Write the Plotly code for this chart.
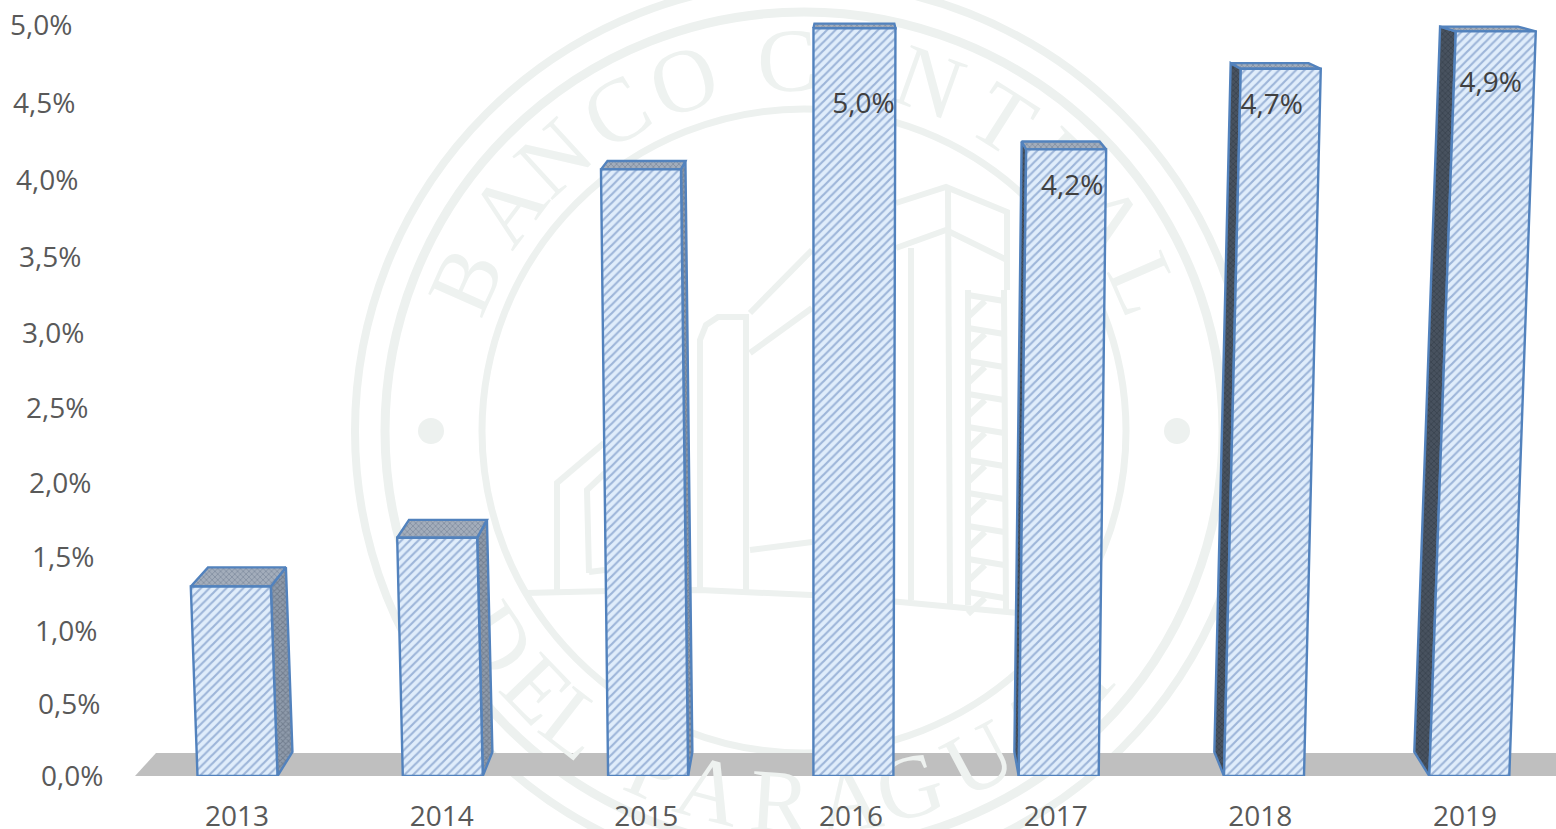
import math
import plotly.graph_objects as go

# ---------- data ----------
years = [2013, 2014, 2015, 2016, 2017, 2018, 2019]
values = [1.3, 1.63, 4.07, 4.98, 4.2, 4.72, 4.96]
y_ticks = [0.0, 0.5, 1.0, 1.5, 2.0, 2.5, 3.0, 3.5, 4.0, 4.5, 5.0]
label_years = [2016, 2017, 2018, 2019]
label_text = ["5,0%", "4,2%", "4,7%", "4,9%"]
label_offset_x = [10, 6, -9, -5]
label_offset_y = [-78, -39, -38, -54]

# ---------- scene: one scene unit = one pixel, the plot is the whole page ----------
W, H, AXIS_PX = 1556, 829, 776
VP_X, VP_Y = 852, -150
DEPTH = 0.026
BAR_W = 80


def project(v):
    """height above the floor of a value, seen in the chart's 3-D perspective"""
    return 144.3 * v / (1 - 0.00783 * v)


def bar_cx(i):
    return 237.5 + 205.3 * i


def skew(cx, h):
    return (cx - VP_X) * 5.76e-5 * h


def back(x, h):
    """point at the rear of the bar"""
    py = AXIS_PX - h
    return x + DEPTH * (VP_X - x), AXIS_PX - (py + DEPTH * (VP_Y - py))


def fmt_pct(v):
    return f"{v:.1f}%".replace(".", ",")


BLUE_LINE = "#5282bd"
PAT_FRONT = dict(shape="/", fgcolor="#5a7db6", bgcolor="#e0edfb", size=6, solidity=0.36)
PAT_TOP = dict(shape="x", fgcolor="#67758a", bgcolor="#a3adbb", size=4, solidity=0.4)
PAT_RIGHT = dict(shape="x", fgcolor="#556274", bgcolor="#8f9bab", size=4, solidity=0.45)
PAT_LEFT = dict(shape="x", fgcolor="#2c3541", bgcolor="#48525f", size=4, solidity=0.4)

fig = go.Figure()


def face(xs, ys, pattern, name):
    fig.add_trace(go.Scatter(
        x=xs + xs[:1], y=ys + ys[:1], mode="lines", fill="toself",
        line=dict(color=BLUE_LINE, width=2.4), fillpattern=pattern,
        fillcolor=pattern["bgcolor"], name=name, hoverinfo="name", showlegend=False,
    ))


for i, (yr, v) in enumerate(zip(years, values)):
    cx = bar_cx(i)
    h = project(v)
    xl0, xr0 = cx - BAR_W / 2, cx + BAR_W / 2
    xl1, xr1 = xl0 + skew(cx, h), xr0 + skew(cx, h) + (2 if yr == 2016 else 0)
    bl0, br0 = back(xl0, 0), back(xr0, 0)
    bl1, br1 = back(xl1, h), back(xr1, h)
    if cx < VP_X - 1:
        face([xr0, xr1, br1[0], br0[0]], [0, h, br1[1], br0[1]], PAT_RIGHT, f"{yr} lado")
    elif cx > VP_X + 2:
        face([xl0, xl1, bl1[0], bl0[0]], [0, h, bl1[1], bl0[1]], PAT_LEFT, f"{yr} lado")
    face([xl1, xr1, br1[0], bl1[0]], [h, h, br1[1], bl1[1]], PAT_TOP, f"{yr} tope")
    face([xl0, xr0, xr1, xl1], [0, 0, h, h], PAT_FRONT, f"{yr}: {fmt_pct(v)}")

# data labels
lx, ly = [], []
for yr, dx, dy in zip(label_years, label_offset_x, label_offset_y):
    i = years.index(yr)
    h = project(values[i])
    lx.append(bar_cx(i) + skew(bar_cx(i), h) + dx)
    ly.append(h + dy)
fig.add_trace(go.Scatter(
    x=lx, y=ly, mode="text", text=label_text, textposition="middle center",
    textfont=dict(family="Open Sans", size=28, color="#404040"),
    hoverinfo="skip", showlegend=False,
))

# ---------- seal watermark (paper-referenced decoration) ----------
PALE = "#edf1ef"
CX, CY = 804, 431


def pxx(x):
    return x / W


def pxy(y):
    return 1 - y / AXIS_PX


shapes = []
for r, w in [(449, 8), (419, 9), (322, 7)]:
    shapes.append(dict(type="circle", xref="paper", yref="paper", layer="below",
                       x0=pxx(CX - r), x1=pxx(CX + r), y0=pxy(CY + r), y1=pxy(CY - r),
                       line=dict(color=PALE, width=w)))
for dx in (-373, 373):
    shapes.append(dict(type="circle", xref="paper", yref="paper", layer="below",
                       x0=pxx(CX + dx - 13), x1=pxx(CX + dx + 13), y0=pxy(CY + 13), y1=pxy(CY - 13),
                       fillcolor=PALE, line=dict(color=PALE, width=0)))

building = [
    [(896, 203), (946, 187), (1007, 212), (1007, 290)],
    [(896, 248), (946, 230), (1007, 260)],
    [(948, 187), (950, 607)],
    [(911, 248), (911, 600)],
    [(700, 590), (700, 340), (706, 325), (718, 317), (746, 317), (746, 590)],
    [(750, 313), (812, 250)],
    [(750, 353), (812, 308)],
    [(750, 550), (812, 542)],
    [(557, 590), (557, 483), (604, 443)],
    [(589, 573), (587, 490), (605, 473)],
    [(589, 572), (605, 570)],
    [(525, 593), (610, 591), (700, 590), (811, 595), (900, 602), (1018, 613)],
    [(968, 290), (968, 605)],
    [(1004, 290), (1006, 613)],
]
for y in range(295, 610, 33):
    building.append([(968, y), (1004, y + 6)])
    building.append([(968, y + 22), (985, y + 6)])
for poly in building:
    path = "M " + " L ".join(f"{pxx(x):.5f},{pxy(y):.5f}" for x, y in poly)
    shapes.append(dict(type="path", xref="paper", yref="paper", layer="below", path=path,
                       line=dict(color=PALE, width=6)))

# grey floor of the 3-D chart
floor = [(135, 776), (156, 753), (1556, 753), (1556, 776)]
fig_floor_path = "M " + " L ".join(f"{pxx(x):.5f},{pxy(y):.5f}" for x, y in floor) + " Z"
shapes.append(dict(type="path", xref="paper", yref="paper", layer="below", path=fig_floor_path,
                   fillcolor="#bfbfbf", line=dict(color="#bfbfbf", width=0)))

annotations = []
R_TEXT = 371
seal_top = list(zip("BANCOCENTRAL", [-66, -53, -42.5, -30.5, -19, -2.6, 9, 19.7, 32.5, 44, 55, 66.6]))
seal_bottom = list(zip("DELPARAGUAY", [-56, -46, -38, -23.6, -14.7, -3.7, 7, 16.6, 28, 38, 49]))
SEAL_FONT = dict(family="Liberation Serif", size=90, color="#eef2f0")
for ch, a in seal_top:
    t = math.radians(a)
    annotations.append(dict(text=ch, xref="paper", yref="paper", showarrow=False,
                            x=pxx(CX + R_TEXT * math.sin(t)), y=pxy(CY - R_TEXT * math.cos(t)),
                            textangle=a, xanchor="center", yanchor="middle", font=SEAL_FONT))
for ch, a in seal_bottom:
    t = math.radians(a)
    annotations.append(dict(text=ch, xref="paper", yref="paper", showarrow=False,
                            x=pxx(CX + R_TEXT * math.sin(t)), y=pxy(CY + R_TEXT * math.cos(t)),
                            textangle=-a, xanchor="center", yanchor="middle", font=SEAL_FONT))
N_SEAL = len(annotations)

# value-axis labels follow the slanted wall of the 3-D chart
for v in y_ticks:
    annotations.append(dict(text=fmt_pct(v), xref="paper", yref="y", showarrow=False,
                            x=pxx(105 - 6.2 * v), y=project(v), yshift=1, xanchor="right", yanchor="middle",
                            font=dict(family="Open Sans", size=28, color="#595959")))

fig.update_layout(
    width=W, height=H, autosize=False,
    margin=dict(l=0, r=0, t=0, b=H - AXIS_PX, pad=0),
    paper_bgcolor="#ffffff", plot_bgcolor="rgba(0,0,0,0)",
    showlegend=False, shapes=shapes, annotations=annotations,
    xaxis=dict(range=[0, W], tickmode="array", automargin=False,
               tickvals=[237 + 204.67 * i for i in range(len(years))],
               ticktext=[str(y) for y in years], showgrid=False, zeroline=False,
               showline=False, ticks="", ticklabelstandoff=21,
               tickfont=dict(family="Open Sans", size=28, color="#595959"), fixedrange=True),
    yaxis=dict(range=[0, AXIS_PX], visible=False, automargin=False, fixedrange=True),
)

post = """
document.body.style.margin = '0';
var gd = document.getElementById('{plot_id}');
var below = gd.querySelector('.layer-below');
gd.querySelectorAll('.annotation').forEach(function (n) {
  if (+n.getAttribute('data-index') < %d) { below.appendChild(n); }
});
""" % N_SEAL
fig.write_html("out.html", post_script=post, config=dict(displayModeBar=False))
